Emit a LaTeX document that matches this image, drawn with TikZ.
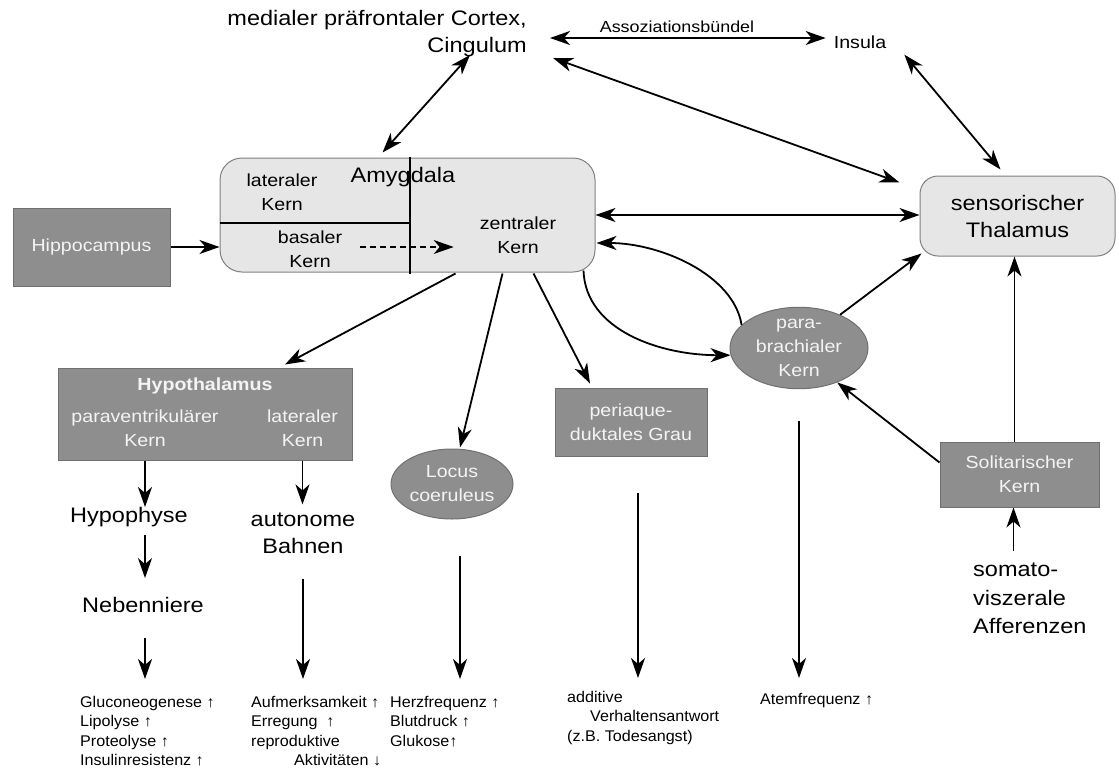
\documentclass[tikz,border=0pt]{standalone}
\usepackage{fontspec}
\setmainfont{Liberation Sans}[FakeStretch=1.12]
\newfontfamily\smallfam{Liberation Sans}[FakeStretch=1.04]
\usetikzlibrary{arrows.meta,calc,shapes.geometric}
\definecolor{boxgray}{HTML}{8E8E8E}
\definecolor{boxedge}{HTML}{707070}
\definecolor{lightfill}{HTML}{E6E6E6}
\definecolor{lightedge}{HTML}{808080}
\definecolor{txtgray}{HTML}{F4F4F4}
\newcommand\fbig{\fontsize{21}{27}\selectfont}
\newcommand\fmid{\fontsize{17.5}{24}\selectfont}
\newcommand\fassoc{\fontsize{16}{20}\selectfont}
\newcommand\fsmall{\smallfam\fontsize{15.5}{19.5}\selectfont}
\tikzset{
  tip/.tip={Stealth[length=20pt,width=14pt,inset=6pt]},
  arr/.style={line width=1.8pt,-tip},
  dbl/.style={line width=1.8pt,tip-tip},
  gbox/.style={draw=boxedge,fill=boxgray,line width=1pt,text=txtgray,align=center,font=\fmid,inner sep=0pt},
  lbox/.style={draw=lightedge,fill=lightfill,line width=1pt,rounded corners=22pt,inner sep=0pt},
  gell/.style={ellipse,draw=boxedge,fill=boxgray,line width=1pt,text=txtgray,align=center,font=\fmid,inner sep=0pt},
  big/.style={font=\fbig,align=center,inner sep=0pt},
  mid/.style={font=\fmid,align=center,inner sep=0pt},
  small/.style={font=\fsmall,align=left,inner sep=0pt,anchor=north west},
}
\begin{document}
\begin{tikzpicture}[x=1pt,y=-1pt]
\useasboundingbox (0,0) rectangle (1119,771);
% --- top row
\node[big,align=right,anchor=east] (cortex) at (527,34) {medialer präfrontaler Cortex,\\Cingulum};
\node[font=\fassoc,inner sep=0pt] (assoc) at (677,27) {Assoziationsbündel};
\node[mid] (insula) at (860,42) {Insula};
% --- amygdala
\node[lbox,minimum width=375pt,minimum height=114pt] (amyg) at (407.5,215) {};
\node[mid] (lat) at (282,192) {lateraler\\Kern};
\node[font=\fbig,inner sep=0pt] (amytitle) at (403,177) {Amygdala};
\node[mid] (bas) at (310,249) {basaler\\Kern};
\node[mid] (zen) at (518,235) {zentraler\\Kern};
\draw[line width=1.2pt] ($(amyg.west)+(0,8)$) -- ($(amyg.center)+(2.5,8)$);
\draw[line width=2.6pt] ($(amyg.north)+(2.5,-1)$) -- ($(amyg.south)+(2.5,1)$);
\draw[arr,line width=1.4pt,dash pattern=on 6pt off 4pt] ($(bas.east)+(18,-2)$) -- ($(zen.west |- bas.east)+(-26,-2)$);
% --- hippocampus and thalamus
\node[gbox,minimum width=157pt,minimum height=78pt] (hip) at (91.5,247) {Hippocampus};
\node[lbox,rounded corners=18pt,minimum width=195pt,minimum height=80pt,font=\fbig,align=center] (thal) at (1017.5,216) {sensorischer\\Thalamus};
% --- lower nodes
\node[gell,minimum width=138pt,minimum height=80pt] (para) at (799,348) {para-\\brachialer\\Kern};
\node[gbox,minimum width=159pt,minimum height=65pt] (sol) at (1019.5,474.5) {Solitarischer\\Kern};
\node[big,align=left,anchor=north west,font=\fontsize{21}{28.5}\selectfont] (somato) at (973,563) {somato-\\viszerale\\Afferenzen};
\node[gbox,minimum width=294pt,minimum height=92pt] (hypo) at (205,414) {};
\node[font=\bfseries\fmid,text=txtgray,inner sep=0pt] (hyptitle) at (205,386) {Hypothalamus};
\node[mid,text=txtgray] (pvn) at (145,428) {paraventrikulärer\\Kern};
\node[mid,text=txtgray] (hlat) at (302.5,428) {lateraler\\Kern};
\node[gell,minimum width=122pt,minimum height=70pt] (locus) at (452,484) {Locus\\coeruleus};
\node[gbox,minimum width=152pt,minimum height=68pt] (pag) at (631,422) {periaque-\\duktales Grau};
\node[big] (hypophyse) at (129,517) {Hypophyse};
\node[big] (nebenniere) at (143,605) {Nebenniere};
\node[big] (autonome) at (303,533) {autonome\\Bahnen};
% --- bottom text blocks
\node[small] (gluco) at (80,696) {Gluconeogenese ↑\\Lipolyse ↑\\Proteolyse ↑\\Insulinresistenz ↑};
\node[small] (aufm) at (251,696) {Aufmerksamkeit ↑\\Erregung\ \ ↑\\reproduktive\\\hspace*{43pt}Aktivitäten ↓};
\node[small] (herz) at (390,696) {Herzfrequenz ↑\\Blutdruck ↑\\Glukose↑};
\node[small] (addit) at (567,691) {additive\\\hspace*{23pt}Verhaltensantwort\\(z.B. Todesangst)};
\node[small] (atem) at (760,693) {Atemfrequenz ↑};
% --- connectors top
\draw[dbl] ($(cortex.east)+(23,4)$) -- ($(insula.west)+(-8,-4)$);
\draw[dbl] ($(cortex.east)+(-57,21)$) -- ($(amyg.north)+(-25,-5)$);
\draw[dbl] ($(cortex.east)+(26,24)$) -- ($(thal.north west)+(-20,7)$);
\draw[dbl] ($(insula.south east)+(18,6)$) -- ($(thal.north)+(-17,-6)$);
\draw[dbl] (amyg.east) -- (amyg.east -| thal.west);
\draw[arr] (hip.east) -- (hip.east -| amyg.west);
% --- amygdala outputs
\draw[arr] ($(amyg.south)+(48,1)$) -- ($(hypo.north)+(80,-3)$);
\draw[arr] ($(amyg.south)+(95,1)$) -- ($(locus.north)+(8,-1)$);
\draw[arr] ($(amyg.south)+(126,1)$) -- ($(pag.north)+(-41,-4)$);
\draw[arr] (para.158) .. controls +(-8,-50) and +(64,0) .. ($(amyg.east)+(1,28)$);
\draw[arr] ($(amyg.south east)+(-12,-2)$) .. controls +(2,60) and +(-70,0) .. (para.186);
% --- right side
\draw[arr] (para.39) -- ($(thal.south west)+(2,-3)$);
\draw[arr] ($(sol.north)+(-5,0)$) -- ($(sol.north |- thal.south)+(-5,0)$);
\draw[arr] ($(sol.west)+(0,-12)$) -- (para.-42);
\draw[arr,shorten <=12pt] ($(somato.north -| sol.south)+(-6,0)$) -- ($(sol.south)+(-6,0)$);
% --- downward chains
\draw[arr] (pvn.south |- hypo.south) -- (pvn.south |- hypophyse.north);
\draw[arr,shorten <=8pt,shorten >=19pt] (hypophyse.south -| pvn.south) -- (nebenniere.north -| pvn.south);
\draw[arr,shorten <=25pt,shorten >=17pt] (nebenniere.south -| pvn.south) -- (gluco.north -| pvn.south);
\draw[arr,shorten >=8pt] (hlat.south |- hypo.south) -- (hlat.south |- autonome.north);
\draw[arr,shorten <=25pt,shorten >=17pt] (autonome.south) -- (autonome.south |- aufm.north);
\draw[arr,shorten <=36pt,shorten >=17pt] ($(locus.south)+(8,0)$) -- ($(locus.south |- herz.north)+(8,0)$);
\draw[arr,shorten <=36pt,shorten >=13pt] ($(pag.south)+(7,0)$) -- ($(pag.south |- addit.north)+(7,0)$);
\draw[arr,shorten <=32pt,shorten >=15pt] (para.south) -- (para.south |- atem.north);
\end{tikzpicture}
\end{document}
